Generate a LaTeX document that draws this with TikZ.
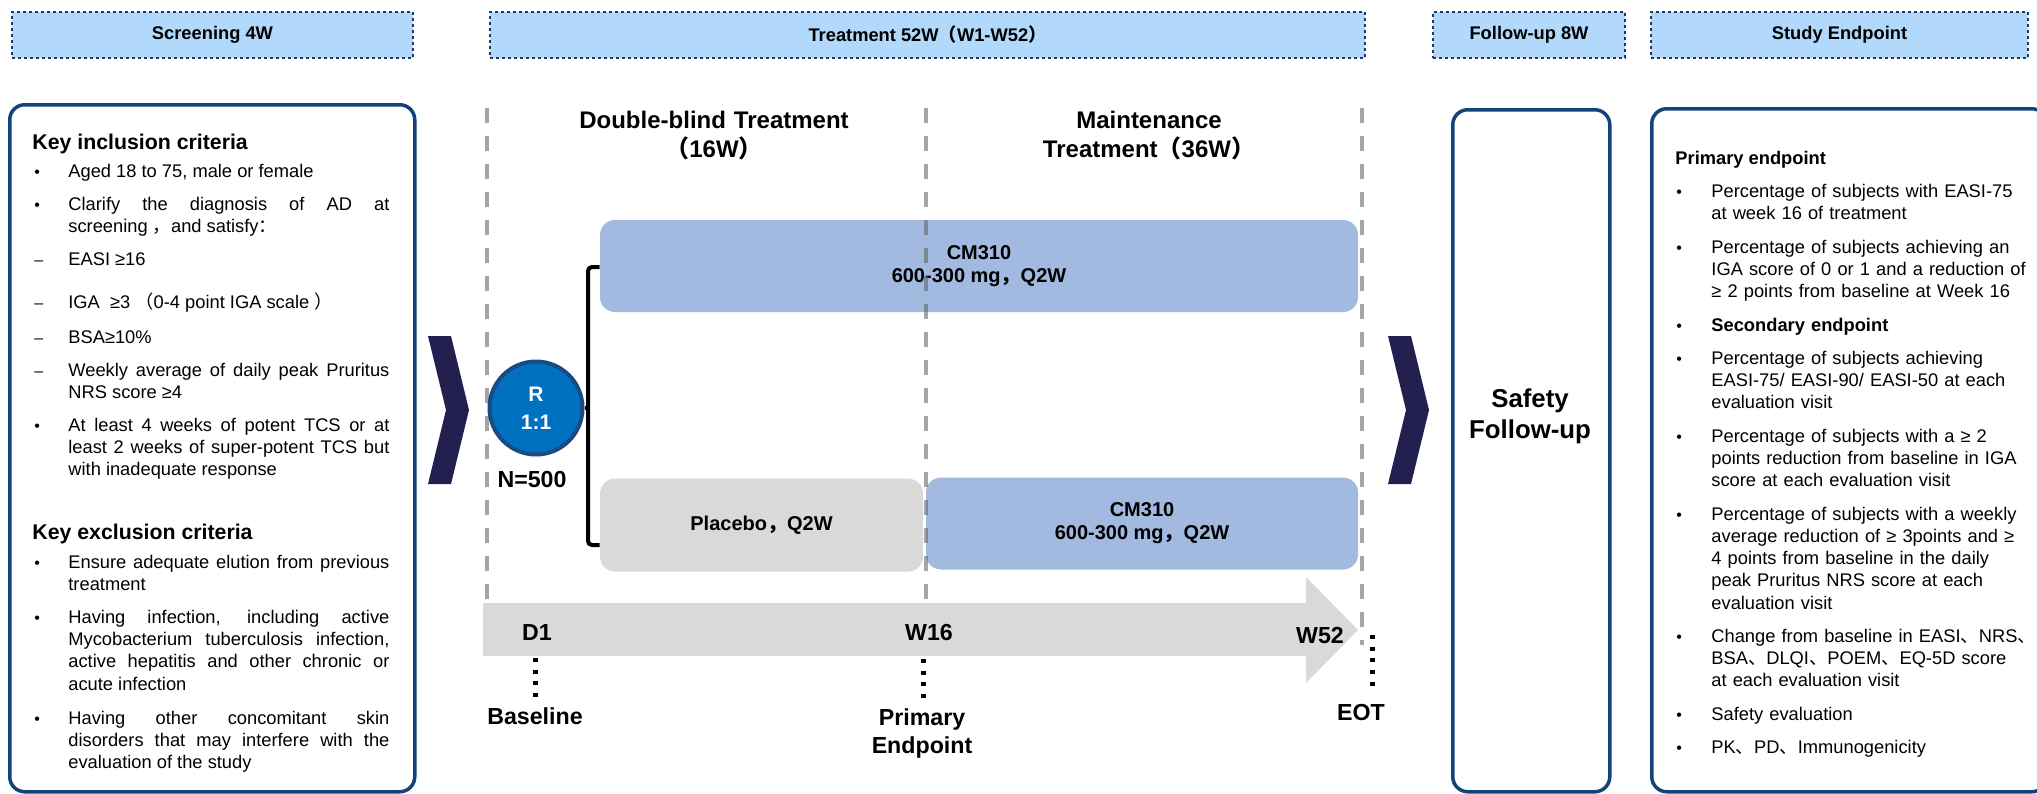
\documentclass[tikz,border=0pt]{standalone}
\usepackage{fontspec}
\setmainfont{Liberation Sans}
\newfontfamily\cj{Noto Sans CJK SC}
\definecolor{hdrfill}{RGB}{178,216,252}
\definecolor{hdrline}{RGB}{31,56,100}
\definecolor{panelline}{RGB}{18,68,122}
\definecolor{barblue}{RGB}{162,185,224}
\definecolor{bargrey}{RGB}{217,217,217}
\definecolor{vdark}{RGB}{96,96,96}
\definecolor{navy}{RGB}{35,32,80}
\definecolor{rfill}{RGB}{0,112,192}
\definecolor{rline}{RGB}{25,75,130}
\newcommand{\fsz}[2]{\fontsize{#1}{#2}\selectfont}
\hyphenpenalty=10000
\tolerance=10000
\hbadness=10000
\begin{document}
\begin{tikzpicture}[x=0.5pt,y=-0.5pt,
  hdr/.style={draw=hdrline, line width=1.35pt, dash pattern=on 1.4pt off 1.6pt, fill=hdrfill, minimum height=23pt, inner sep=0pt, font=\bfseries\fsz{9.15pt}{11pt}},
  panel/.style={draw=panelline, line width=1.75pt, rounded corners=7.5pt, anchor=north west, inner sep=0pt},
  bar/.style={rounded corners=7.5pt, inner sep=0pt, align=center, font=\bfseries\fsz{10pt}{11.5pt}},
  vline/.style={draw=vdark, draw opacity=0.56, line width=1.65pt, dash pattern=on 7.5pt off 6.5pt},
  tick/.style={line width=2.5pt, dash pattern=on 2pt off 3.85pt},
  brk/.style={line width=2pt, rounded corners=2pt},
  body/.style={anchor=base west, inner sep=0pt, text width=160.5pt, align=justify, font=\fsz{9.15pt}{11.2pt}},
  rbody/.style={anchor=base west, inner sep=0pt, text width=178pt, align=left, font=\fsz{9.15pt}{11.15pt}},
  bul/.style={anchor=base west, inner sep=0pt, font=\fsz{8pt}{10pt}},
  ttl/.style={anchor=base west, inner sep=0pt, font=\bfseries\fsz{10.65pt}{13pt}},
  ttl2/.style={anchor=base, inner sep=0pt, text width=200pt, align=center, font=\bfseries\fsz{12pt}{14.5pt}},
  lab/.style={anchor=base, inner sep=0pt, text width=100pt, align=center, font=\bfseries\fsz{11.6pt}{14pt}},
  chev/.style={fill=navy}
]
\useasboundingbox (0,0) rectangle (2037,793);
\fill[white] (0,0) rectangle (2037,793);

% headers
\node[hdr, minimum width=200.5pt] (hs) at (212.5,35) {Screening 4W};
\node[hdr, minimum width=437.5pt] (ht) at (927.5,35) {Treatment 52W{\cj （}W1-W52{\cj ）}};
\node[hdr, minimum width=96pt] (hf) at (1529,35) {Follow-up 8W};
\node[hdr, minimum width=188.5pt] (he) at (1839.5,35) {Study Endpoint};

% panels
\node[panel, minimum width=202.5pt, minimum height=343.5pt] (incl) at (8,103) {};
\node[panel, minimum width=78.5pt, minimum height=341pt] (fu) at (1451,108) {};
\node[panel, minimum width=197.5pt, minimum height=341.5pt] (ep) at (1650,107) {};

% chevrons
\fill[chev] (428,336) -- (451,336) -- (469,410) -- (451,484) -- (428,484) -- (446,410) -- cycle;
\fill[chev] (1388,336) -- (1411,336) -- (1429,410) -- (1411,484) -- (1388,484) -- (1406,410) -- cycle;

% left dashed line
\coordinate (v1t) at (487,108);
\coordinate (v1b) at (487,600);
\draw[vline] (v1t) -- (v1b);

% timeline arrow
\fill[bargrey] (483,603) -- (1306,603) -- (1306,577) -- (1358,630) -- (1306,683) -- (1306,656) -- (483,656) -- cycle;

% bars
\node[bar, fill=barblue, minimum width=379pt, minimum height=46pt] (cm1) at (979,266) {CM310\\600-300 mg{\cj ，}Q2W};
\node[bar, fill=bargrey, minimum width=161.5pt, minimum height=46.5pt] (pl) at (761.5,525) {Placebo{\cj ，}Q2W};
\node[bar, fill=barblue, minimum width=216pt, minimum height=46pt] (cm2) at (1142,523.5) {CM310\\600-300 mg{\cj ，}Q2W};

% other dashed lines
\coordinate (v2t) at (926,108);
\coordinate (v2b) at (926,600);
\coordinate (v3t) at (1362,108);
\coordinate (v3b) at (1362,645);
\draw[vline] (v2t) -- (v2b);
\draw[vline] (v3t) -- (v3b);

% randomisation
\node[circle, fill=rfill, draw=rline, line width=2pt, minimum size=46.5pt, inner sep=0pt, text=white, align=center, font=\bfseries\fsz{10.5pt}{14pt}] (R) at (536,408) {R\\1:1};
\coordinate (brt) at (588,267);
\coordinate (brb) at (588,545);
\draw[brk] (cm1.west |- brt) -- (brt) -- (brb) -- (pl.west |- brb);
\draw[line width=2pt] (R.east) -- (R.east -| brt);
\node[lab] (n500) at (532,487) {N=500};

% titles
\node[ttl2] (dbt) at (714,128) {Double-blind Treatment\\{\cj （}16W{\cj ）}};
\node[ttl2] (mt) at (1149,128) {Maintenance\\Treatment{\cj （}36W{\cj ）}};

% timeline labels
\node[lab] (d1) at (537,640) {D1};
\node[lab] (w16) at (929,640) {W16};
\node[lab] (w52) at (1320,643) {W52};
\coordinate (t1a) at (535,658);
\coordinate (t1b) at (535,698);
\coordinate (t2a) at (923,659);
\coordinate (t2b) at (923,700);
\coordinate (t3a) at (1372,635);
\coordinate (t3b) at (1372,688);
\draw[tick] (t1a) -- (t1b);
\draw[tick] (t2a) -- (t2b);
\draw[tick] (t3a) -- (t3b);
\node[lab] (bl) at (535,724) {Baseline};
\node[lab] (pe) at (922,725) {Primary\\Endpoint};
\node[lab] (eot) at (1361,720) {EOT};

% safety follow-up
\node[anchor=base, inner sep=0pt, text width=100pt, align=center, font=\bfseries\fsz{12.9pt}{15.5pt}] (sf) at (1530,407) {Safety\\Follow-up};

% left panel text
\node[ttl] (ki) at (32,149) {Key inclusion criteria};
\node[body] (i1) at (68,177) {Aged 18 to 75, male or female};
\node[body] (i2) at (68,210) {Clarify the diagnosis of AD at\linebreak screening {\cj ，}and satisfy{\cj ：}};
\node[body] (i3) at (68,265) {EASI ≥16};
\node[body] (i4) at (68,308) {IGA\ \ ≥3 {\cj （}0-4 point IGA scale {\cj ）}};
\node[body] (i5) at (68,343) {BSA≥10\%};
\node[body] (i6) at (68,376) {Weekly average of daily peak Pruritus\linebreak NRS score ≥4};
\node[body] (i7) at (68,431) {At least 4 weeks of potent TCS or at\linebreak least 2 weeks of super-potent TCS but\linebreak with inadequate response};
\node[ttl] (ke) at (32,539) {Key exclusion criteria};
\node[body] (e1) at (68,568) {Ensure adequate elution from previous\linebreak treatment};
\node[body] (e2) at (68,623) {Having infection, including active\linebreak Mycobacterium tuberculosis infection,\linebreak active hepatitis and other chronic or\linebreak acute infection};
\node[body] (e3) at (68,724) {Having other concomitant skin\linebreak disorders that may interfere with the\linebreak evaluation of the study};
\foreach \y/\s [count=\i] in {177/•,210/•,265/–,308/–,343/–,376/–,431/•,568/•,623/•,724/•}
  \node[bul] (lb\i) at (34,\y) {\s};

% right panel text
\node[anchor=base west, inner sep=0pt, font=\bfseries\fsz{9.15pt}{11pt}] (pe0) at (1675,164) {Primary endpoint};
\node[rbody] (p1) at (1711,197) {Percentage of subjects with EASI-75\\at week 16 of treatment};
\node[rbody] (p2) at (1711,253) {Percentage of subjects achieving an\\IGA score of 0 or 1 and a reduction of\\≥ 2 points from baseline at Week 16};
\node[rbody, font=\bfseries\fsz{9.15pt}{11.15pt}] (s0) at (1711,331) {Secondary endpoint};
\node[rbody] (s1) at (1711,364) {Percentage of subjects achieving\\EASI-75/ EASI-90/ EASI-50 at each\\evaluation visit};
\node[rbody] (s2) at (1711,442) {Percentage of subjects with a ≥ 2\\points reduction from baseline in IGA\\score at each evaluation visit};
\node[rbody] (s3) at (1711,520) {Percentage of subjects with a weekly\\average reduction of ≥ 3points and ≥\\4 points from baseline in the daily\\peak Pruritus NRS score at each\\evaluation visit};
\node[rbody] (s4) at (1711,642) {Change from baseline in EASI{\cj 、}NRS{\cj 、}\\BSA{\cj 、}DLQI{\cj 、}POEM{\cj 、}EQ-5D score\\at each evaluation visit};
\node[rbody] (s5) at (1711,720) {Safety evaluation};
\node[rbody] (s6) at (1711,753) {PK{\cj 、}PD{\cj 、}Immunogenicity};
\foreach \y [count=\i] in {197,253,331,364,442,520,642,720,753}
  \node[bul] (rb\i) at (1676,\y) {•};
\end{tikzpicture}
\end{document}
